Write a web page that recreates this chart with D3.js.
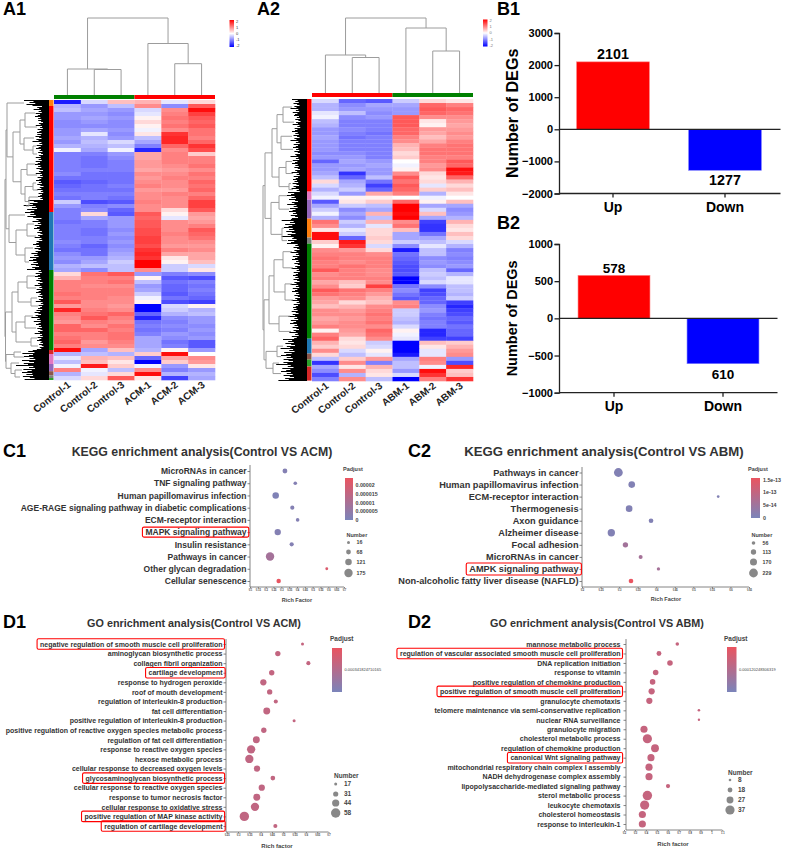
<!DOCTYPE html>
<html><head><meta charset="utf-8">
<script src="https://cdn.jsdelivr.net/npm/d3@7"></script>
<style>
html,body{margin:0;padding:0;background:#fff}
svg{display:block}
text{font-family:"Liberation Sans",Arial,sans-serif}
</style></head><body>
<svg id="fig" width="789" height="851"></svg>
<script>
// ---------- A: heat maps ----------
const a1Samples=["Control-1","Control-2","Control-3","ACM-1","ACM-2","ACM-3"];
const a2Samples=["Control-1","Control-2","Control-3","ABM-1","ABM-2","ABM-3"];
const a1Rows=[
[-1.8,-.3,.5,.6,-.2,.3],[-.6,-.8,-.5,.9,-.9,1.3],[-.5,-.7,-.8,-.3,.9,1.9],[-.8,-.8,-.9,-.2,1,1.5],[-.8,-.7,-.8,.1,1.1,1.3],
[-.9,-.8,-.9,.3,1,1.2],[-.9,-.9,-.9,.1,1.1,1.3],[-.8,-.7,-.8,-.1,.9,1.1],[-.8,-.2,-.9,.2,1.6,1.1],[-.7,-.6,-.8,-.5,1.7,1],
[-.8,-.5,-.3,-.7,1.7,1.2],[-.6,-.6,-.5,-1,1.2,1.6],[-.1,-.7,-.1,-1.7,.9,1.4],[-1,-1,-.8,.7,1,.4],[-1,-1.1,-.9,.7,1,1],
[-1,-1.1,-1,.8,1,1],[-1,-1.1,-1,.8,.9,1.1],[-1,-1,-1,.7,.8,.9],[-.9,-1.1,-1.1,.9,.9,1.1],[-1.1,-1.1,-1.1,.8,1,1],
[-1.3,-1.2,-1.1,.9,.9,1.2],[-1.2,-1.1,-1,1,.9,1.1],[-1.1,-1.1,-1.1,.8,.8,1.2],[-1,-1,-1,.9,1,1],[-1.1,-1,-1.1,.9,.9,1.2],
[-.4,-1.4,-1.3,1,.9,1.5],[-.8,-1,-.9,.9,.9,1.5],[-1,-.9,-1.2,.9,.3,1.3],[-1,.3,-1.3,1.3,.1,.8],[-1,-.7,-.8,1.2,-.2,.7],
[-1.1,-1,-.8,1.3,.9,.8],[-1,-1,-.8,1.3,.9,1],[-1,-1.1,-.9,1.4,.9,1.3],[-1,-1.1,-.8,1.4,1,1.2],[-1,-1,-.9,1.5,.9,1.1],
[-.9,-1,-.8,1.5,.9,.9],[-1,-1.2,-.9,1.4,.8,.8],[-1.1,-1.1,-.8,1.6,1,.9],[-.9,-1.1,-.7,1.7,.7,.7],[-.8,-.8,-.6,1.6,.2,.7],
[-.9,-.7,-.4,2,.1,.5],[-.6,-.5,-.5,2,-.4,-.3],[-.7,-.9,-.5,.9,-.4,.2],[.3,1.1,1.3,-.8,-1,-.9],[.6,1,1,.1,-1.3,-1.4],
[1,1,1.1,-.5,-1.1,-1],[1,.9,.9,-.8,-1.2,-1.1],[1,1,1,-.7,-1.2,-1],[1.1,1,1,-.4,-1.3,-1.1],[1,1,.9,-.1,-1.1,-1.2],
[1.3,.9,.9,.1,-1.4,-1.5],[.8,.9,.8,-2,-.3,.1],[1.7,1,.9,-2,-.4,-.6],[1,1.1,1.2,-1.2,-.6,-.5],[.9,1.3,1,-1.7,-.9,-.8],
[.8,1,.9,-1.1,-1,-.8],[1.2,.9,1.1,-1,-.9,-.9],[1.2,1.2,1,-1.1,-1,-.8],[1,1,1.1,-1,-.8,-.9],[1.1,1,1.1,-.7,-.9,-.8],
[1.2,.8,1,-.7,-1.1,-1.3],[1,.9,.9,-.7,-1,-1.3],[1.9,-.7,.5,-.6,.1,-.8],[-.6,-.5,-.6,.4,1.9,0],[-.2,.6,.5,-1.2,.7,.9],
[-.5,.5,.2,-2,.4,.8],[-.1,1.8,.4,-.1,-.8,.2],[1,-.1,-.5,.9,-1,-.8],[-.6,-.2,.3,1.9,-.6,-.6],[-.3,.3,1.3,.2,-1.5,-.7]];
const a2Rows=[
[-.3,-1.2,-1.3,-.4,.3,.2],[-.6,-.9,-.7,-.7,1.2,1],[-.6,-.8,-.8,-.8,1.3,1.2],[-.2,-.5,-.9,-.8,1.2,1.1],[-.1,-.9,-.8,1.3,.9,.9],
[-.5,-1,-1,1.3,.2,.8],[-.6,-1,-1,1.3,.1,.7],[-.8,-.9,-1,1.2,.8,.8],[-.8,-1,-1.1,1.2,.7,.9],[-.7,-1.1,-1,1,.5,.8],
[-.8,-1,-1,.9,.7,1],[-.8,-1,-1,.6,1,1.1],[-.8,-1,-1,.5,1.1,1.1],[-.9,-.9,-1,.3,1.1,1.1],[-.8,-.8,-1,.4,1,1],
[-1.2,-.7,-.8,0,1,1.3],[-.8,-.8,-.7,-.1,.8,1.2],[-.8,-.7,-.8,.1,.9,1.9],[-.7,-1.6,-.8,.9,.3,1.8],[-.5,-1.2,-.5,1.3,.2,1.2],
[.3,-.7,-1.1,1.1,.3,.6],[-.3,-.6,-1.5,1.3,-.2,.3],[-.6,-.4,-1.2,1.2,.4,.5],[-.3,-.8,.7,1,-.6,.2],[-.1,.1,.1,0,-.1,0],
[-1.3,.2,.4,1.2,.1,.5],[-.7,-.4,-.5,2,-.7,-.7],[-.4,-.9,-.7,2,-.3,-.9],[-.1,-.7,.6,1.9,.5,-.8],[-.6,-.9,-.5,2,-.7,-.6],
[1.1,-.4,.6,.9,-1.5,.6],[.9,-.6,-.2,1.1,-1.6,.3],[.2,-.2,.3,.5,-1.6,.2],[1.9,-.4,.3,-.7,-1.1,.5],[1.9,-1.2,.4,-.7,-.7,.3],
[.4,1.8,.3,-.4,-.5,-.3],[.1,1.6,-.3,-.9,-.2,-.6],[.9,.8,.3,-1.8,-.5,-1],[1,1,.9,-1.1,-.5,-.9],[1.1,1,1,-1.2,-.9,-1],
[1,.9,1,-1.3,-.8,-.9],[1,1.1,1,-1.4,-.9,-.8],[1.3,1,.9,-1.4,-.5,-1.2],[.9,1,.9,-1.3,-.4,-.6],[1,1,1,-2,-.5,-.2],
[.7,.5,.9,-2,-.3,-.2],[.9,.4,1.5,-1.1,-.9,-.5],[1.3,1.1,1,-.9,-1.5,-.5],[1.1,1,.8,-1.1,-1.4,-.6],[.8,.9,.6,-1.3,-1.2,-.4],
[.7,.3,.5,.9,-1.2,-1.5],[.5,.6,.9,1,-.9,-1.7],[.9,.8,1,-.4,-.8,-1.5],[.9,.9,1.1,-.4,-1,-1.4],[.7,.8,1,-.5,-1.1,-1.2],
[.8,.9,1.1,-.6,-1,-1.3],[1,.9,.9,-.3,-1,-1.1],[.1,.8,1.2,.1,-1.7,-1.2],[1,.7,1.1,-.1,-1.7,-1.2],[1.2,.3,.9,-.2,-1.5,-1.5],
[.6,.2,-.4,-2,.5,.4],[.4,.3,-.3,-2,.2,.6],[.9,-.3,.1,-2,-.2,.8],[.3,-.5,-.2,-1.8,-.2,.9],[-.5,.4,.8,-.7,1,-.8],
[-1.6,.9,-1,-.5,.9,-1.4],[-.7,.2,.6,-.5,-.1,1.7],[-.9,.9,.3,-.8,1.9,.4],[-1.4,-.6,.2,-.3,1.6,.5],[-1,.9,-.5,-2,1,1.6]];
// row cluster strips: rows covered and colour name
const a1Strip=[[1.5,"#ff7f0e"],[26.5,"#ff0000"],[14.5,"#1f77b4"],[20,"#008000"],[1,"#d62728"],[2.5,"#e377c2"],[1.8,"#9467bd"],[1,"#8c564b"],[.7,"#7f7f7f"],[.5,"#2ca02c"]];
const a2Strip=[[23,"#ff0000"],[2,"#e377c2"],[4.7,"#9467bd"],[4.7,"#ff7f0e"],[1.5,"#7f7f7f"],[23.6,"#008000"],[3.7,"#1f77b4"],[1.5,"#8c564b"],[1.7,"#2ca02c"],[3.5,"#d62728"]];
// column dendrograms: [height, left, right], leaf = sample index
const a1ColTree=[77,[26,0,[25.5,1,2]],[51.5,3,[31.3,4,5]]];
const a2ColTree=[75,[38,0,[35.5,1,2]],[65,3,[42,4,5]]];
// row dendrograms: [height, left, right], leaf = [height, rows]
const a1RowTree=[44,
 [43,[42,[25,1.5],[36,
    [29,[24,[14,3.5],[12,3.5]],[25,[15,2],[16,[13,2],[12,2]]]],
    [28,[22,[14,3],[12,2.5]],[24,[16,[13,1.5],[11,2]],[20,[11,1.5],[23,3]]]]]],
  [40,[24,1.5],[33,[22,[15,3],[13,3]],[24,[16,3],[20,4]]]]],
 [43.5,[37,[31,[22,[14,3],[13,3]],[18,[12,2],[11,2]]],[33,[24,[16,3],[13,3]],[18,[12,2],[11,2]]]],
  [43,[35,[28,1],[25,1.5]],[38,[30,1.5],[34,[27,2],[29,1.5]]]]]];
const a2RowTree=[44,
 [42,[35,[30,[24,[15,4],[13,3.5]],[26,[15,3.5],[14,3]]],[28,[21,[15,3],[14,3]],[18,[16,2],[14,1]]]],
  [36,[28,[20,2],[18,4.7]],[25,[23,4.7],[20,1.5]]]],
 [43,[38,[33,[24,[15,4],[14,4]],[22,[15,4],[14,4]]],[28,[17,4],[16,3.6]]],
  [41,[30,[24,3.7],[26,1.5]],[34,[28,1.7],[26,3.5]]]]];
const fanLengths=[1,.62,.78,.55,.9,.66,.5,.84,.7,1.1,.58,.74,.52,.95,.64,.8];
const heatTicks=[2,1,0,-1,-2];

// ---------- B: bars ----------
const barCats=["Up","Down"];
const b1Values=[2101,-1277];
const b1Labels=["2101","1277"];
const b1Ticks=[3000,2000,1000,0,-1000,-2000];
const b2Values=[578,-610];
const b2Labels=["578","610"];
const b2Ticks=[1000,500,0,-500,-1000];

// ---------- C: KEGG ----------
const c1Terms=["MicroRNAs in cancer","TNF signaling pathway","Human papillomavirus infection","AGE-RAGE signaling pathway in diabetic complications","ECM-receptor interaction","MAPK signaling pathway","Insulin resistance","Pathways in cancer","Other glycan degradation","Cellular senescence"];
const c1Rich=[.323,.389,.264,.37,.404,.277,.366,.228,.59,.283];
const c1Count=[70,35,120,50,35,115,50,175,12,60];
const c1Padj=[2e-6,2e-6,1e-6,2e-6,2e-6,2e-6,2e-6,9e-6,2.1e-5,2.4e-5];
const c1Hi=["MAPK signaling pathway"];
const c1XTicks=[.1,.15,.2,.25,.3,.35,.4,.45,.5,.55,.6,.65,.7];
const c1PadjTicks=[2e-5,1.5e-5,1e-5,5e-6,0];
const c1PadjLabels=["0.00002","0.000015","0.00001","0.000005","0"];
const c1Sizes=[16,68,121,175];
const c2Terms=["Pathways in cancer","Human papillomavirus infection","ECM-receptor interaction","Thermogenesis","Axon guidance","Alzheimer disease","Focal adhesion","MicroRNAs in cancer","AMPK signaling pathway","Non-alcoholic fatty liver disease (NAFLD)"];
const c2Rich=[.298,.334,.567,.327,.386,.279,.317,.358,.406,.332];
const c2Count=[229,158,25,158,91,180,114,69,47,91];
const c2Padj=[1e-14,1e-14,1e-14,1e-14,1e-14,1e-14,5.5e-14,6e-14,6e-14,1.55e-13];
const c2Hi=["AMPK signaling pathway"];
const c2XTicks=[.2,.25,.3,.35,.4,.45,.5,.55,.6,.65];
const c2PadjTicks=[1.5e-13,1e-13,5e-14,0];
const c2PadjLabels=["1.5e-13","1e-13","5e-14","0"];
const c2Sizes=[56,113,170,229];

// ---------- D: GO ----------
const d1Terms=["negative regulation of smooth muscle cell proliferation","aminoglycan biosynthetic process","collagen fibril organization","cartilage development","response to hydrogen peroxide","roof of mouth development","regulation of interleukin-8 production","fat cell differentiation","positive regulation of interleukin-8 production","positive regulation of reactive oxygen species metabolic process","regulation of fat cell differentiation","response to reactive oxygen species","hexose metabolic process","cellular response to decreased oxygen levels","glycosaminoglycan biosynthetic process","cellular response to reactive oxygen species","response to tumor necrosis factor","cellular response to oxidative stress","positive regulation of MAP kinase activity","regulation of cartilage development"];
const d1Rich=[.585,.476,.611,.449,.412,.44,.467,.427,.548,.414,.381,.358,.35,.384,.454,.405,.383,.375,.328,.465];
const d1Count=[17,32,24,32,38,32,24,42,17,32,42,51,51,38,28,38,42,51,58,24];
const d1Padj=[.00045,.00044,.00044,.00044,.00043,.00043,.00043,.00043,.00044,.00042,.00042,.00042,.00042,.00042,.00043,.00042,.00042,.00042,.00042,.00043];
const d1Hi=["negative regulation of smooth muscle cell proliferation","cartilage development","glycosaminoglycan biosynthetic process","positive regulation of MAP kinase activity","regulation of cartilage development"];
const d1XTicks=[.25,.3,.35,.4,.45,.5,.55,.6,.65,.7];
const d1PadjTicks=[.00034];
const d1PadjLabels=["0.000341824710165"];
const d1Sizes=[17,31,44,58];
const d2Terms=["mannose metabolic process","regulation of vascular associated smooth muscle cell proliferation","DNA replication initiation","response to vitamin","positive regulation of chemokine production","positive regulation of smooth muscle cell proliferation","granulocyte chemotaxis","telomere maintenance via semi-conservative replication","nuclear RNA surveillance","granulocyte migration","cholesterol metabolic process","regulation of chemokine production","canonical Wnt signaling pathway","mitochondrial respiratory chain complex I assembly","NADH dehydrogenase complex assembly","lipopolysaccharide-mediated signaling pathway","sterol metabolic process","leukocyte chemotaxis","cholesterol homeostasis","response to interleukin-1"];
const d2Rich=[.688,.52,.621,.49,.462,.453,.432,.886,.886,.383,.414,.484,.447,.429,.429,.603,.414,.389,.368,.368];
const d2Count=[12,18,21,21,21,24,24,8,7,28,37,31,28,28,28,15,38,37,28,28];
const d2Padj=[.00016,.00016,.00016,.00016,.00016,.00016,.00016,.00016,.00016,.00016,.00016,.00016,.00016,.00016,.00016,.00016,.00016,.00016,.00016,.00016];
const d2Hi=["regulation of vascular associated smooth muscle cell proliferation","positive regulation of smooth muscle cell proliferation","canonical Wnt signaling pathway"];
const d2XTicks=[.2,.3,.4,.5,.6,.7,.8,.9,1,1.1];
const d2PadjTicks=[.00012];
const d2PadjLabels=["0.000120248306319"];
const d2Sizes=[8,18,27,37];

const svg=d3.select("#fig");
const defs=svg.append("defs");
const panelLabels=[["A1",3,15],["A2",257,15],["B1",497,15],["B2",497,229],["C1",3,457],["C2",408,457],["D1",3,628],["D2",408,628]];
svg.selectAll("text.panel").data(panelLabels).join("text").attr("class","panel")
  .attr("x",d=>d[1]).attr("y",d=>d[2]).text(d=>d[0])
  .attr("font-size",18).attr("font-weight","bold").attr("fill","#000");

const heatColor=d3.scaleLinear().domain([-2,0,2]).range(["#0000ff","#ffffff","#ff0000"]);
let gradId=0;
function vGradient(stops){ // stops top→bottom
  const id="g"+(++gradId);
  const g=defs.append("linearGradient").attr("id",id).attr("x1",0).attr("y1",0).attr("x2",0).attr("y2",1);
  stops.forEach((c,i)=>g.append("stop").attr("offset",i/(stops.length-1)).attr("stop-color",c));
  return "url(#"+id+")";
}

function drawHeat(o){
  const g=svg.append("g");
  const x=d3.scaleBand().domain(d3.range(o.samples.length)).range([o.x0,o.x1]);
  const y=d3.scaleBand().domain(d3.range(o.rows.length)).range([o.y0,o.y1]);
  const yR=d3.scaleLinear().domain([0,o.rows.length]).range([o.y0,o.y1]);
  o.rows.forEach((r,i)=>{
    g.selectAll(null).data(r).join("rect").attr("x",(d,j)=>x(j)).attr("y",y(i))
     .attr("width",x.bandwidth()+.3).attr("height",y.bandwidth()+.3).attr("fill",d=>heatColor(d));
  });
  // top colour strip
  g.append("rect").attr("x",o.x0).attr("y",o.barY).attr("width",(o.x1-o.x0)/2).attr("height",4).attr("fill",o.topColors[0]);
  g.append("rect").attr("x",(o.x0+o.x1)/2).attr("y",o.barY).attr("width",(o.x1-o.x0)/2).attr("height",4).attr("fill",o.topColors[1]);
  // row strip
  let c=0;
  o.strip.forEach(s=>{
    g.append("rect").attr("x",o.x0-5).attr("y",yR(c)).attr("width",4.5).attr("height",yR(c+s[0])-yR(c)).attr("fill",s[1]);
    c+=s[0];
  });
  // column dendrogram
  const colH=d3.scaleLinear().domain([0,100]).range([o.barY,o.barY-100]);
  const cx=i=>x(i)+x.bandwidth()/2;
  const lineG="#9c9c9c";
  (function walk(n){
    if(typeof n==="number") return {x:cx(n),h:0};
    const a=walk(n[1]),b=walk(n[2]);
    g.append("path").attr("fill","none").attr("stroke",lineG).attr("stroke-width",1)
     .attr("d",`M${a.x},${colH(a.h)}V${colH(n[0])}H${b.x}V${colH(b.h)}`);
    return {x:(a.x+b.x)/2,h:n[0]};
  })(o.colTree);
  // row dendrogram
  const stripX=o.x0-5;
  const rowH=d3.scaleLinear().domain([0,44]).range([stripX,stripX-44]);
  let rowPos=0,fi=0;
  (function walk(n){
    if(n.length===2){
      const r0=rowPos,r1=rowPos+n[1];rowPos=r1;
      const ys=d3.range(Math.round(yR(r0))+.5,yR(r1),1);
      g.selectAll(null).data(ys).join("line").attr("x1",stripX).attr("x2",()=>rowH(n[0]*fanLengths[(fi++)%fanLengths.length]))
        .attr("y1",d=>d).attr("y2",d=>d).attr("stroke","#000").attr("stroke-width",1);
      return {y:yR((r0+r1)/2),h:n[0]};
    }
    const a=walk(n[1]),b=walk(n[2]);
    g.append("path").attr("fill","none").attr("stroke",lineG).attr("stroke-width",1)
     .attr("d",`M${rowH(a.h)},${a.y}H${rowH(n[0])}V${b.y}H${rowH(b.h)}`);
    return {y:(a.y+b.y)/2,h:n[0]};
  })(o.rowTree);
  // sample labels
  g.selectAll(null).data(o.samples).join("text").text(d=>d)
    .attr("text-anchor","end").attr("font-size",10).attr("font-weight","bold").attr("fill","#222")
    .attr("transform",(d,i)=>`translate(${cx(i)+4},${o.y1+6}) rotate(-38)`);
  // colour key
  const ky=d3.scaleLinear().domain([2.2,-2.2]).range([o.keyY,o.keyY+27]);
  g.append("rect").attr("x",o.keyX).attr("y",o.keyY).attr("width",4.5).attr("height",27)
   .attr("fill",vGradient(heatTicks.map(t=>heatColor(t))));
  g.selectAll(null).data(heatTicks).join("text").text(d=>d).attr("x",o.keyX+6.5).attr("y",d=>ky(d)+1.4)
   .attr("font-size",4).attr("fill",o.keyText);
}
drawHeat({samples:a1Samples,rows:a1Rows,strip:a1Strip,colTree:a1ColTree,rowTree:a1RowTree,
  x0:54,x1:215,y0:100,y1:380,barY:95,topColors:["#008000","#ff0000"],keyX:229.5,keyY:20,keyText:"#333"});
drawHeat({samples:a2Samples,rows:a2Rows,strip:a2Strip,colTree:a2ColTree,rowTree:a2RowTree,
  x0:312,x1:473,y0:99,y1:381,barY:93,topColors:["#ff0000","#008000"],keyX:483,keyY:19.5,keyText:"#777"});

function drawBars(o){
  const g=svg.append("g");
  const y=d3.scaleLinear().domain(o.domain).range(o.yRange);
  const x=d3.scaleBand().domain(barCats).range(o.xRange).paddingInner(o.pad).paddingOuter(o.pad/2);
  const fill=["#ff0000","#0000ff"], edge=["#ff8080","#8080ff"];
  g.selectAll("rect").data(o.values).join("rect")
    .attr("x",(d,i)=>x(barCats[i])).attr("width",x.bandwidth())
    .attr("y",d=>y(Math.max(0,d))).attr("height",d=>Math.abs(y(d)-y(0)))
    .attr("fill",(d,i)=>fill[i]).attr("stroke",(d,i)=>edge[i]).attr("stroke-width",.6);
  const ya=g.append("g").attr("transform",`translate(${o.axisX},0)`)
    .call(d3.axisLeft(y).tickValues(o.ticks).tickSize(4.5).tickPadding(1.5).tickFormat(d3.format("d")));
  ya.selectAll("text").attr("font-size",11).attr("font-weight","bold").attr("fill","#000").attr("font-family","Liberation Sans");
  const xa=g.append("g").attr("transform",`translate(0,${y(o.domain[0])})`)
    .call(d3.axisBottom(x).tickSize(4).tickSizeOuter(0).tickPadding(o.catPad));
  xa.selectAll("text").attr("font-size",o.catSize).attr("font-weight","bold").attr("fill","#000").attr("font-family","Liberation Sans");
  g.selectAll("path.domain,.tick line").attr("stroke","#222").attr("stroke-width",1.3);
  xa.select("path.domain").attr("d",`M${o.axisX},0H${o.xEnd}`);
  g.append("line").attr("x1",o.axisX).attr("x2",o.xEnd).attr("y1",y(0)).attr("y2",y(0)).attr("stroke","#222").attr("stroke-width",1.3);
  g.selectAll(".val").data(o.values).join("text").attr("class","val")
    .attr("x",(d,i)=>x(barCats[i])+x.bandwidth()/2)
    .attr("y",d=>d>0?y(d)-o.valUp:y(d)+o.valDown)
    .attr("text-anchor","middle").attr("font-size",o.valSize).attr("font-weight","bold")
    .text((d,i)=>o.labels[i]);
  g.append("text").attr("transform",`translate(${o.labelX},${(y(o.domain[0])+y(o.domain[1]))/2}) rotate(-90)`)
    .attr("text-anchor","middle").attr("font-size",o.labelSize).attr("font-weight","bold").text("Number of DEGs");
}
drawBars({values:b1Values,labels:b1Labels,ticks:b1Ticks,domain:[-2000,3000],yRange:[193.5,33],xRange:[557,781],pad:.35,axisX:559,xEnd:780.5,catSize:14,catPad:5,valSize:14.3,valUp:2.5,valDown:15,labelX:518,labelSize:16.2});
drawBars({values:b2Values,labels:b2Labels,ticks:b2Ticks,domain:[-1000,1000],yRange:[392.7,244],xRange:[559.5,777.5],pad:.34,axisX:559,xEnd:777.5,catSize:14,catPad:4,valSize:13.5,valUp:2,valDown:15,labelX:517,labelSize:14.5});

const padjColor=["#7b84ba","#ea5460"];
function drawBubble(o){
  const g=svg.append("g");
  const x=d3.scaleLinear().domain(d3.extent(o.xTicks)).range(o.xRange);
  const y=d3.scalePoint().domain(o.terms).range(o.yPoints);
  const r=d3.scaleLinear().domain(d3.extent(o.sizes)).range(o.rRange);
  const col=d3.scaleLinear().domain([0,o.padMax]).range(padjColor);
  svg.append("text").attr("x",o.titleX).attr("y",o.titleY).attr("text-anchor","middle")
    .attr("font-size",o.titleSize).attr("font-weight","bold").attr("fill","#333").text(o.title);
  const ya=g.append("g").attr("transform",`translate(${o.axisX},0)`)
    .call(d3.axisLeft(y).tickSize(2.5).tickPadding(o.termPad));
  ya.select("path.domain").attr("d",`M0,${o.axisTop}V${o.axisBottom}`);
  ya.selectAll("text").attr("font-size",o.termSize).attr("font-weight","bold").attr("fill","#333").attr("font-family","Liberation Sans");
  const xa=g.append("g").attr("transform",`translate(0,${o.axisBottom})`)
    .call(d3.axisBottom(x).tickValues(o.xTicks).tickSize(1.5).tickPadding(1).tickSizeOuter(0).tickFormat(d=>String(+d.toFixed(2))));
  xa.select("path.domain").attr("d",`M${o.axisX},0H${o.xRange[1]}`);
  xa.selectAll("text").attr("font-size",o.xTickSize).attr("font-weight","bold").attr("fill","#444").attr("font-family","Liberation Sans");
  g.selectAll("path.domain,.tick line").attr("stroke","#666").attr("stroke-width",.8);
  g.selectAll("circle.dot").data(o.terms).join("circle").attr("class","dot")
    .attr("cx",(d,i)=>x(o.rich[i])).attr("cy",d=>y(d)).attr("r",(d,i)=>r(o.count[i]))
    .attr("fill",(d,i)=>col(o.padj[i]));
  // highlighted terms
  ya.selectAll(".tick").filter(d=>o.hi.includes(d)).each(function(d){
    const b=d3.select(this).select("text").node().getBBox();
    g.append("rect").attr("x",o.axisX+b.x-3).attr("y",y(d)-o.boxH/2).attr("width",b.width+5).attr("height",o.boxH)
      .attr("rx",1.5).attr("fill","none").attr("stroke","#f00").attr("stroke-width",1.1);
  });
  g.append("text").attr("x",o.xLabel[0]).attr("y",o.xLabel[1]).attr("text-anchor","middle").attr("font-size",o.xLabelSize)
    .attr("font-weight","bold").attr("fill","#444").text(o.xTitle);
  // Padjust legend
  const lg=o.legend;
  g.append("text").attr("x",lg.padX).attr("y",lg.padY).attr("font-size",lg.head).attr("font-weight","bold").attr("fill","#444").text("Padjust");
  g.append("rect").attr("x",lg.barX).attr("y",lg.barTop).attr("width",lg.barW).attr("height",lg.barBottom-lg.barTop)
    .attr("fill",vGradient([col(o.padMax),col(0)]));
  const ly=d3.scaleLinear().domain([0,o.padMax]).range([lg.barBottom,lg.barTop]);
  g.selectAll(null).data(o.padTicks).join("text").text((d,i)=>o.padLabels[i])
    .attr("x",lg.barX+lg.barW+lg.gap).attr("y",d=>ly(d)+lg.padSize*.35).attr("font-size",lg.padSize).attr("font-weight",lg.padWeight).attr("fill","#444");
  // Number legend
  g.append("text").attr("x",lg.numX).attr("y",lg.numY).attr("font-size",lg.head).attr("font-weight","bold").attr("fill","#444").text("Number");
  g.selectAll(null).data(o.sizes).join("circle").attr("cx",lg.cX).attr("cy",(d,i)=>lg.cY[i]).attr("r",d=>r(d)).attr("fill","#888");
  g.selectAll(null).data(o.sizes).join("text").text(d=>d).attr("x",lg.cLabelX).attr("y",(d,i)=>lg.cY[i]+lg.numSize*.35)
    .attr("font-size",lg.numSize).attr("font-weight","bold").attr("fill","#444");
}
drawBubble({title:"KEGG enrichment analysis(Control VS ACM)",titleX:202,titleY:456,titleSize:12.3,terms:c1Terms,rich:c1Rich,count:c1Count,padj:c1Padj,hi:c1Hi,
  xTicks:c1XTicks,xRange:[250,344],yPoints:[471,581],axisX:250,axisTop:465,axisBottom:587,termSize:8.5,termPad:1,boxH:10,xTickSize:2.6,sizes:c1Sizes,rRange:[1.5,4.2],padMax:2.44e-5,
  padTicks:c1PadjTicks,padLabels:c1PadjLabels,xTitle:"Rich Factor",xLabel:[297,602],xLabelSize:5.5,
  legend:{padX:343,padY:471,head:5.5,barX:345,barW:8,barTop:478,barBottom:520,gap:2.5,padSize:5.3,padWeight:"bold",numX:346.5,numY:537,cX:348.5,cY:[542.5,552,562,573],cLabelX:356.5,numSize:5.3}});
drawBubble({title:"KEGG enrichment analysis(Control VS ABM)",titleX:604,titleY:456,titleSize:13.2,terms:c2Terms,rich:c2Rich,count:c2Count,padj:c2Padj,hi:c2Hi,
  xTicks:c2XTicks,xRange:[582,749],yPoints:[472.5,581],axisX:582,axisTop:467,axisBottom:587,termSize:9.2,termPad:1,boxH:12,xTickSize:2.6,sizes:c2Sizes,rRange:[1.8,4.4],padMax:1.57e-13,
  padTicks:c2PadjTicks,padLabels:c2PadjLabels,xTitle:"Rich Factor",xLabel:[666,601],xLabelSize:5.5,
  legend:{padX:748,padY:471,head:5.5,barX:751,barW:9,barTop:478,barBottom:518,gap:3,padSize:5.3,padWeight:"bold",numX:751.5,numY:537,cX:753.5,cY:[543,552,562,573],cLabelX:762.5,numSize:5.3}});
drawBubble({title:"GO enrichment analysis(Control VS ACM)",titleX:194,titleY:627,titleSize:10.8,terms:d1Terms,rich:d1Rich,count:d1Count,padj:d1Padj,hi:d1Hi,
  xTicks:d1XTicks,xRange:[226.7,328.5],yPoints:[644,826],axisX:226,axisTop:639,axisBottom:832,termSize:7,termPad:1,boxH:10.5,xTickSize:2.6,sizes:d1Sizes,rRange:[1.5,4.7],padMax:.00068,
  padTicks:d1PadjTicks,padLabels:d1PadjLabels,xTitle:"Rich factor",xLabel:[277,848],xLabelSize:6,
  legend:{padX:330,padY:641,head:6.5,barX:332,barW:10,barTop:648,barBottom:692,gap:2.5,padSize:4,padWeight:"normal",numX:334,numY:778,cX:335.7,cY:[784,794,803,813],cLabelX:344,numSize:6.5}});
drawBubble({title:"GO enrichment analysis(Control VS ABM)",titleX:597,titleY:627,titleSize:10.8,terms:d2Terms,rich:d2Rich,count:d2Count,padj:d2Padj,hi:d2Hi,
  xTicks:d2XTicks,xRange:[624,722.3],yPoints:[644,824],axisX:626,axisTop:639,axisBottom:830,termSize:7,termPad:3,boxH:10.5,xTickSize:2.6,sizes:d2Sizes,rRange:[1.3,4.6],padMax:.00024,
  padTicks:d2PadjTicks,padLabels:d2PadjLabels,xTitle:"Rich factor",xLabel:[673,846],xLabelSize:6,
  legend:{padX:724,padY:641,head:6.5,barX:727,barW:9.5,barTop:647,barBottom:692,gap:2.5,padSize:4,padWeight:"normal",numX:728,numY:775,cX:730,cY:[780,790,800,810],cLabelX:738,numSize:6.5}});
</script></body></html>
